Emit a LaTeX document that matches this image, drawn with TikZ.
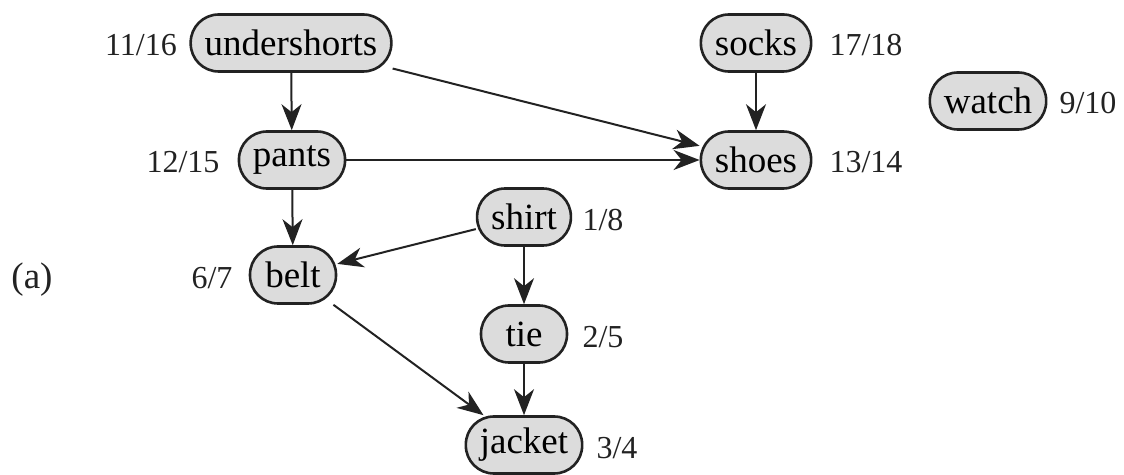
\documentclass[tikz,border=0pt]{standalone}
\usepackage{fontspec}
\setmainfont{Liberation Serif}
\usetikzlibrary{arrows.meta}
\definecolor{boxfill}{HTML}{DCDCDC}
\definecolor{ink}{HTML}{222222}
\tikzset{
  vtx/.style={draw=ink, line width=1.3pt, fill=boxfill, rounded corners=14pt,
    minimum height=28.5pt, minimum width=43pt, inner xsep=7pt, inner ysep=0pt,
    font=\fontsize{18.5}{22}\selectfont},
  tlab/.style={font=\fontsize{16}{20}\selectfont, inner sep=0pt, text=ink},
  edge/.style={draw=ink, line width=1pt, -{Stealth[length=13pt,width=10pt,inset=4pt]}}
}
\begin{document}
\begin{tikzpicture}[x=0.5pt,y=-0.5pt]
\useasboundingbox (0,0) rectangle (1124,475);
\node[vtx] (undershorts) at (291,43) {undershorts};
\node[vtx] (pants) at (292,160) {pants};
\node[vtx] (socks) at (756,43) {socks};
\node[vtx] (shoes) at (756,160) {shoes};
\node[vtx] (watch) at (988,101) {watch};
\node[vtx] (shirt) at (524,217) {shirt};
\node[vtx] (tie) at (524,334) {tie};
\node[vtx] (jacket) at (524,445) {jacket};
\node[vtx] (belt) at (293,275) {belt};

\node[tlab] (l1) at (141,45) {11/16};
\node[tlab] (l2) at (183,162) {12/15};
\node[tlab] (l3) at (866,45) {17/18};
\node[tlab] (l4) at (866,162) {13/14};
\node[tlab] (l5) at (1088,103) {9/10};
\node[tlab] (l6) at (603,220) {1/8};
\node[tlab] (l7) at (603,337) {2/5};
\node[tlab] (l8) at (617,448) {3/4};
\node[tlab] (l9) at (212,278) {6/7};
\node[tlab, font=\fontsize{18.5}{22}\selectfont] (a) at (32,280) {(a)};

\draw[edge] (undershorts) -- (pants);
\draw[edge] (undershorts) -- (shoes);
\draw[edge] (pants) -- (shoes);
\draw[edge] (socks) -- (shoes);
\draw[edge] (pants) -- (belt);
\draw[edge] (shirt) -- (belt);
\draw[edge] (shirt) -- (tie);
\draw[edge] (tie) -- (jacket);
\draw[edge] (belt) -- (jacket);
\end{tikzpicture}
\end{document}
